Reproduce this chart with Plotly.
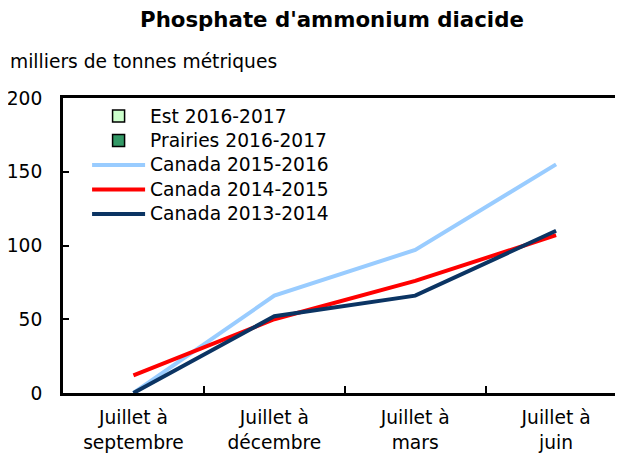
import plotly.graph_objects as go

categories = ["Juillet à<br>septembre", "Juillet à<br>décembre", "Juillet à<br>mars", "Juillet à<br>juin"]
series_names = ["Est 2016-2017", "Prairies 2016-2017", "Canada 2015-2016", "Canada 2014-2015", "Canada 2013-2014"]
est_2016_2017 = [None, None, None, None]
prairies_2016_2017 = [None, None, None, None]
canada_2015_2016 = [0, 66, 97, 155]
canada_2014_2015 = [12, 50, 76, 107]
canada_2013_2014 = [0, 52, 66, 110]
y_ticks = [0, 50, 100, 150, 200]

FONT = "DejaVu Sans"
FS = 18.67


def lg(name):
    return '<span style="font-size:18.67px">' + name + '</span>'


fig = go.Figure()
fig.add_trace(go.Bar(x=categories, y=est_2016_2017, name=lg(series_names[0]),
                     marker=dict(color="#ccffcc", line=dict(color="black", width=1.5))))
fig.add_trace(go.Bar(x=categories, y=prairies_2016_2017, name=lg(series_names[1]),
                     marker=dict(color="#339966", line=dict(color="black", width=1.5))))
fig.add_trace(go.Scatter(x=categories, y=canada_2015_2016, name=lg(series_names[2]),
                         mode="lines", line=dict(color="#99ccff", width=4)))
fig.add_trace(go.Scatter(x=categories, y=canada_2014_2015, name=lg(series_names[3]),
                         mode="lines", line=dict(color="#ff0000", width=4)))
fig.add_trace(go.Scatter(x=categories, y=canada_2013_2014, name=lg(series_names[4]),
                         mode="lines", line=dict(color="#0b3463", width=4)))

fig.update_layout(
    width=623, height=456,
    margin=dict(l=55, r=8, t=90, b=71, autoexpand=False),
    paper_bgcolor="white", plot_bgcolor="white",
    font=dict(family=FONT, size=FS, color="black"),
    title=dict(text="<b>Phosphate d'ammonium diacide</b>", x=0.52, xanchor="center",
               y=1 - 12 / 456, yanchor="middle", yref="container",
               font=dict(family=FONT, size=21.3, color="black")),
    showlegend=True,
    legend=dict(x=0.043, y=0.997, xanchor="left", yanchor="top",
                bgcolor="rgba(0,0,0,0)", itemwidth=53, traceorder="normal",
                font=dict(family=FONT, size=16.5, color="black"), tracegroupgap=0),
    xaxis=dict(type="category", range=[-0.5, 3.475], showgrid=False, zeroline=False,
               automargin=False,
               showline=True, linecolor="black", linewidth=3, mirror=True,
               ticks="inside", tickson="boundaries", ticklen=7, tickwidth=2, tickcolor="black",
               ticklabelstandoff=6,
               tickfont=dict(family=FONT, size=FS, color="black")),
    yaxis=dict(range=[0, 200], tickvals=y_ticks, showgrid=False, zeroline=False,
               automargin=False,
               showline=True, linecolor="black", linewidth=3,
               ticks="inside", ticklen=6, tickwidth=2, tickcolor="black",
               ticklabelstandoff=14,
               tickfont=dict(family=FONT, size=FS, color="black")),
    annotations=[dict(text="milliers de tonnes métriques", xref="paper", yref="paper",
                      x=-55 / 560, y=(393 - 62) / 295, xanchor="left", yanchor="middle",
                      showarrow=False, font=dict(family=FONT, size=FS, color="black"))],
)

fig.write_html("out.html")
